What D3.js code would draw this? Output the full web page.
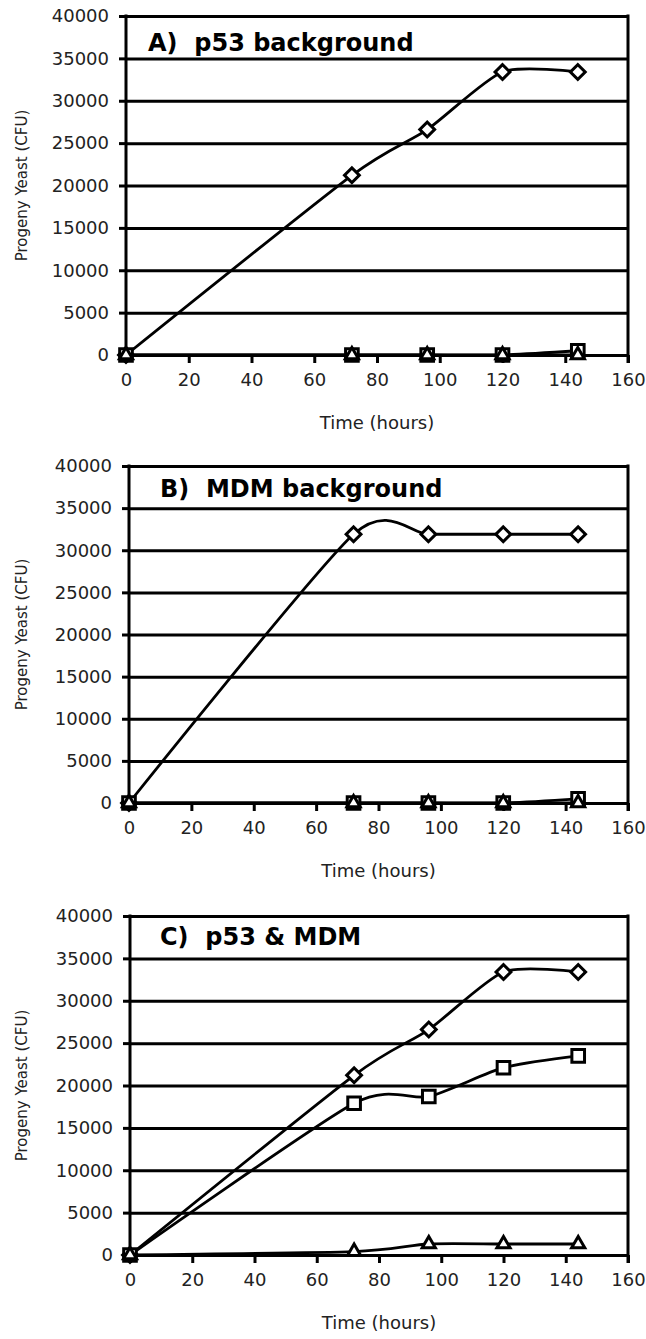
<!DOCTYPE html>
<html>
<head>
<meta charset="utf-8">
<script src="https://cdn.jsdelivr.net/npm/d3@7"></script>
<style>
  body { margin: 0; background: #fff; }
  svg { display: block; }
  svg text { font-family: "DejaVu Sans", Verdana, sans-serif; }
</style>
</head>
<body>
<script>
// sampling times (hours)
const hours = [0, 72, 96, 120, 144];
const xTicks = [0, 20, 40, 60, 80, 100, 120, 140, 160];
const yTicks = [0, 5000, 10000, 15000, 20000, 25000, 30000, 35000, 40000];

// panel A: p53 background
const aDiamond = [0, 21200, 26600, 33400, 33400];
const aSquare = [0, 0, 0, 0, 500];
const aTriangle = [0, 0, 0, 0, 0];

// panel B: MDM background
const bDiamond = [0, 31900, 31900, 31900, 31900];
const bSquare = [0, 0, 0, 0, 500];
const bTriangle = [0, 0, 0, 0, 0];

// panel C: p53 & MDM
const cDiamond = [0, 21200, 26600, 33400, 33400];
const cSquare = [0, 17900, 18700, 22100, 23500];
const cTriangle = [0, 400, 1300, 1300, 1300];

const panels = [
  {title: "A)\u00a0\u00a0p53 background", left: 126, top: 16, bottom: 355, tx: 148, ty: 51,
   series: [aDiamond, aSquare, aTriangle]},
  {title: "B)\u00a0\u00a0MDM background", left: 129, top: 466, bottom: 803, tx: 160, ty: 497,
   series: [bDiamond, bSquare, bTriangle]},
  {title: "C)\u00a0\u00a0p53 & MDM", left: 130, top: 916, bottom: 1255, tx: 160, ty: 945,
   series: [cDiamond, cSquare, cTriangle]}
];
const right = 628;
const markers = ["diamond", "square", "triangle"];

const svg = d3.select("body").append("svg")
  .attr("width", 646)
  .attr("height", 1339);

panels.forEach(p => {
  const x = d3.scaleLinear().domain([0, 160]).range([p.left, right]);
  const y = d3.scaleLinear().domain([0, 40000]).range([p.bottom, p.top]);
  const g = svg.append("g");

  // horizontal gridlines
  g.append("g")
    .attr("transform", `translate(${p.left},0)`)
    .call(d3.axisLeft(y).tickValues(yTicks).tickSize(-(right - p.left)).tickFormat(""))
    .call(s => s.select(".domain").remove())
    .selectAll("line").attr("stroke", "#000").attr("stroke-width", 3);

  // y axis with labels
  g.append("g")
    .attr("transform", `translate(${p.left},0)`)
    .call(d3.axisLeft(y).tickValues(yTicks).tickSize(7).tickSizeOuter(0).tickPadding(10).tickFormat(d3.format("d")))
    .call(s => s.select(".domain").attr("stroke-width", 3).attr("d", `M0,${p.bottom + 1.5}V${p.top - 1.5}`))
    .call(s => s.selectAll("line").attr("stroke-width", 3))
    .call(s => s.selectAll("text").attr("font-size", 18).attr("fill", "#222"));

  // x axis
  g.append("g")
    .attr("transform", `translate(0,${p.bottom})`)
    .call(d3.axisBottom(x).tickValues(xTicks).tickSize(8).tickSizeOuter(0).tickPadding(10))
    .call(s => s.select(".domain").attr("stroke-width", 3))
    .call(s => s.selectAll("line").attr("stroke-width", 3))
    .call(s => s.selectAll("text").attr("font-size", 18).attr("fill", "#222"));

  // right border
  g.append("line")
    .attr("x1", right).attr("x2", right)
    .attr("y1", p.top - 1.5).attr("y2", p.bottom + 8)
    .attr("stroke", "#000").attr("stroke-width", 3);

  // title
  g.append("text")
    .attr("x", p.tx).attr("y", p.ty)
    .attr("font-size", 24).attr("font-weight", "bold")
    .text(p.title);

  // axis titles
  g.append("text")
    .attr("x", (p.left + right) / 2).attr("y", p.bottom + 74)
    .attr("text-anchor", "middle").attr("font-size", 18).attr("fill", "#222")
    .text("Time (hours)");
  g.append("text")
    .attr("transform", `translate(27,${(p.top + p.bottom) / 2}) rotate(-90)`)
    .attr("text-anchor", "middle").attr("font-size", 15).attr("fill", "#222")
    .text("Progeny Yeast (CFU)");

  const line = d3.line()
    .x((d, i) => x(hours[i]))
    .y(d => y(d))
    .curve(d3.curveCardinal.tension(0.3));

  p.series.forEach(vals => {
    g.append("path")
      .datum(vals)
      .attr("d", line)
      .attr("fill", "none")
      .attr("stroke", "#000")
      .attr("stroke-width", 2.8);
  });

  p.series.forEach((vals, k) => {
    const type = markers[k];
    let sym;
    if (type === "diamond") sym = d3.symbol(d3.symbolSquare, 110)();
    else if (type === "square") sym = d3.symbol(d3.symbolSquare, 160)();
    else sym = d3.symbol(d3.symbolTriangle, 75)();
    g.selectAll(null)
      .data(vals)
      .enter()
      .append("path")
      .attr("d", sym)
      .attr("transform", (d, i) => `translate(${x(hours[i])},${y(d)})` + (type === "diamond" ? " rotate(45)" : ""))
      .attr("fill", "#fff")
      .attr("stroke", "#000")
      .attr("stroke-width", 3);
  });
});
</script>
</body>
</html>
